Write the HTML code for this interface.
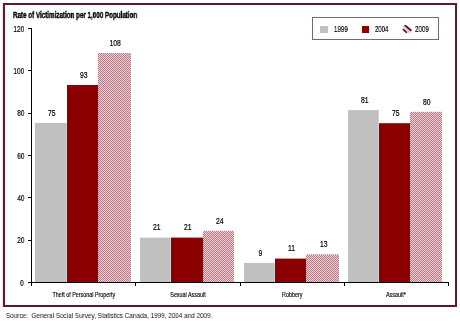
<!DOCTYPE html><html><head><meta charset="utf-8"><style>
html,body{margin:0;padding:0;background:#fff;width:460px;height:323px;overflow:hidden;position:relative}
*{box-sizing:border-box}
.a{position:absolute}
.t{position:absolute;font-family:"Liberation Sans",sans-serif;color:#000;white-space:nowrap;line-height:1;will-change:transform;-webkit-text-stroke:0.2px #000}
.frame{position:absolute;left:3px;top:3px;width:454px;height:304px;border:2px solid #5e1a2c;box-shadow:-1px 0 0 rgba(255,170,190,.35)}
.g{background:#c0c0c0}
.d{background:#8a0000}
.p{background:conic-gradient(#b87a84 25%,#f2cfd6 0 50%,#b87a84 0 75%,#f2cfd6 0) 0 0/2px 2px}
</style></head><body>
<div class="frame"></div>

<div class="t" style="left:12.5px;top:11.2px;font-size:8.5px;font-weight:bold;-webkit-text-stroke:0.4px #000;transform:scaleX(0.735);transform-origin:0 0">Rate of Victimization per 1,000 Population</div>
<div class="a" style="left:31px;top:28px;width:1px;height:255px;background:#000"></div>
<div class="a" style="left:31px;top:282px;width:418px;height:1px;background:#000"></div>
<div class="a" style="left:28px;top:282.00px;width:3px;height:1px;background:#000"></div>
<div class="t" style="right:436px;top:278.50px;font-size:8.5px;transform:scaleX(0.76);transform-origin:100% 0">0</div>
<div class="a" style="left:28px;top:239.67px;width:3px;height:1px;background:#000"></div>
<div class="t" style="right:436px;top:236.17px;font-size:8.5px;transform:scaleX(0.76);transform-origin:100% 0">20</div>
<div class="a" style="left:28px;top:197.33px;width:3px;height:1px;background:#000"></div>
<div class="t" style="right:436px;top:193.83px;font-size:8.5px;transform:scaleX(0.76);transform-origin:100% 0">40</div>
<div class="a" style="left:28px;top:155.00px;width:3px;height:1px;background:#000"></div>
<div class="t" style="right:436px;top:151.50px;font-size:8.5px;transform:scaleX(0.76);transform-origin:100% 0">60</div>
<div class="a" style="left:28px;top:112.67px;width:3px;height:1px;background:#000"></div>
<div class="t" style="right:436px;top:109.17px;font-size:8.5px;transform:scaleX(0.76);transform-origin:100% 0">80</div>
<div class="a" style="left:28px;top:70.33px;width:3px;height:1px;background:#000"></div>
<div class="t" style="right:436px;top:66.83px;font-size:8.5px;transform:scaleX(0.76);transform-origin:100% 0">100</div>
<div class="a" style="left:28px;top:28.00px;width:3px;height:1px;background:#000"></div>
<div class="t" style="right:436px;top:24.50px;font-size:8.5px;transform:scaleX(0.76);transform-origin:100% 0">120</div>
<div class="a" style="left:31px;top:282px;width:1px;height:4px;background:#000"></div>
<div class="a" style="left:135px;top:282px;width:1px;height:4px;background:#000"></div>
<div class="a" style="left:240px;top:282px;width:1px;height:4px;background:#000"></div>
<div class="a" style="left:344px;top:282px;width:1px;height:4px;background:#000"></div>
<div class="a" style="left:448px;top:282px;width:1px;height:4px;background:#000"></div>
<div class="a g" style="left:35px;top:123px;width:32px;height:159px"></div>
<div class="a" style="left:66px;top:123px;width:1px;height:159px;background:#ddd0d0"></div>
<div class="t" style="left:25.8px;width:52px;text-align:center;top:108.70px;font-size:8.5px"><span style="display:inline-block;transform:scaleX(0.8)">75</span></div>
<div class="a d" style="left:67px;top:85px;width:31px;height:197px"></div>
<div class="t" style="left:57.8px;width:51px;text-align:center;top:70.70px;font-size:8.5px"><span style="display:inline-block;transform:scaleX(0.8)">93</span></div>
<div class="a p" style="left:98px;top:53px;width:33px;height:229px"></div>
<div class="t" style="left:88.8px;width:53px;text-align:center;top:38.70px;font-size:8.5px"><span style="display:inline-block;transform:scaleX(0.8)">108</span></div>
<div class="t" style="left:23.50px;width:120px;text-align:center;top:291px;font-size:7px;-webkit-text-stroke:0.15px #000"><span style="display:inline-block;transform:scaleX(0.77)">Theft of Personal Property</span></div>
<div class="a g" style="left:140px;top:238px;width:31px;height:44px"></div>
<div class="a g" style="left:140px;top:237px;width:31px;height:1px;opacity:0.40"></div>
<div class="a" style="left:170px;top:238px;width:1px;height:44px;background:#ddd0d0"></div>
<div class="t" style="left:130.8px;width:51px;text-align:center;top:223.30px;font-size:8.5px"><span style="display:inline-block;transform:scaleX(0.8)">21</span></div>
<div class="a d" style="left:171px;top:238px;width:32px;height:44px"></div>
<div class="a d" style="left:171px;top:237px;width:32px;height:1px;opacity:0.40"></div>
<div class="t" style="left:161.8px;width:52px;text-align:center;top:223.30px;font-size:8.5px"><span style="display:inline-block;transform:scaleX(0.8)">21</span></div>
<div class="a p" style="left:203px;top:231px;width:31px;height:51px"></div>
<div class="a p" style="left:203px;top:230px;width:31px;height:1px;opacity:0.20"></div>
<div class="t" style="left:193.8px;width:51px;text-align:center;top:216.50px;font-size:8.5px"><span style="display:inline-block;transform:scaleX(0.8)">24</span></div>
<div class="t" style="left:127.80px;width:120px;text-align:center;top:291px;font-size:7px;-webkit-text-stroke:0.15px #000"><span style="display:inline-block;transform:scaleX(0.77)">Sexual Assault</span></div>
<div class="a g" style="left:244px;top:263px;width:31px;height:19px"></div>
<div class="a g" style="left:244px;top:262px;width:31px;height:1px;opacity:0.10"></div>
<div class="a" style="left:274px;top:263px;width:1px;height:19px;background:#ddd0d0"></div>
<div class="t" style="left:234.8px;width:51px;text-align:center;top:248.60px;font-size:8.5px"><span style="display:inline-block;transform:scaleX(0.8)">9</span></div>
<div class="a d" style="left:275px;top:259px;width:31px;height:23px"></div>
<div class="a d" style="left:275px;top:258px;width:31px;height:1px;opacity:0.40"></div>
<div class="t" style="left:265.8px;width:51px;text-align:center;top:244.30px;font-size:8.5px"><span style="display:inline-block;transform:scaleX(0.8)">11</span></div>
<div class="a p" style="left:306px;top:255px;width:33px;height:27px"></div>
<div class="a p" style="left:306px;top:254px;width:33px;height:1px;opacity:0.70"></div>
<div class="t" style="left:296.8px;width:53px;text-align:center;top:240.00px;font-size:8.5px"><span style="display:inline-block;transform:scaleX(0.8)">13</span></div>
<div class="t" style="left:232.00px;width:120px;text-align:center;top:291px;font-size:7px;-webkit-text-stroke:0.15px #000"><span style="display:inline-block;transform:scaleX(0.77)">Robbery</span></div>
<div class="a g" style="left:348px;top:111px;width:31px;height:171px"></div>
<div class="a g" style="left:348px;top:110px;width:31px;height:1px;opacity:0.90"></div>
<div class="a" style="left:378px;top:111px;width:1px;height:171px;background:#ddd0d0"></div>
<div class="t" style="left:338.8px;width:51px;text-align:center;top:95.80px;font-size:8.5px"><span style="display:inline-block;transform:scaleX(0.8)">81</span></div>
<div class="a d" style="left:379px;top:124px;width:31px;height:158px"></div>
<div class="a d" style="left:379px;top:123px;width:31px;height:1px;opacity:0.80"></div>
<div class="t" style="left:369.8px;width:51px;text-align:center;top:108.90px;font-size:8.5px"><span style="display:inline-block;transform:scaleX(0.8)">75</span></div>
<div class="a p" style="left:410px;top:112px;width:32px;height:170px"></div>
<div class="a p" style="left:410px;top:111px;width:32px;height:1px;opacity:0.20"></div>
<div class="t" style="left:400.8px;width:52px;text-align:center;top:97.50px;font-size:8.5px"><span style="display:inline-block;transform:scaleX(0.8)">80</span></div>
<div class="t" style="left:335.50px;width:120px;text-align:center;top:291px;font-size:7px;-webkit-text-stroke:0.15px #000"><span style="display:inline-block;transform:scaleX(0.77)">Assault*</span></div>
<div class="a" style="left:312px;top:17px;width:127px;height:23px;border:1px solid #7a6868"></div>
<div class="a g" style="left:320px;top:26px;width:8px;height:7px"></div>
<div class="t" style="left:334.3px;top:25px;font-size:8.5px;transform:scaleX(0.73);transform-origin:0 0">1999</div>
<div class="a d" style="left:362px;top:26px;width:7px;height:7px"></div>
<div class="t" style="left:374.8px;top:25px;font-size:8.5px;transform:scaleX(0.7);transform-origin:0 0">2004</div>
<svg class="a" style="left:402px;top:24px" width="10" height="10" viewBox="0 0 10 10"><line x1="2" y1="3.2" x2="7.6" y2="8" stroke="#f2bcc8" stroke-width="2.2" stroke-linecap="round"/><line x1="3.4" y1="1.6" x2="8.8" y2="6.2" stroke="#5a0a18" stroke-width="1.8" stroke-linecap="round"/><line x1="1.3" y1="5.6" x2="4.5" y2="8.3" stroke="#5a0a18" stroke-width="1.6" stroke-linecap="round"/></svg>
<div class="t" style="left:415px;top:25px;font-size:8.5px;transform:scaleX(0.73);transform-origin:0 0">2009</div>
<div class="t" style="left:5.5px;top:312px;font-size:7.3px;transform:scaleX(0.87);transform-origin:0 0;color:#111;-webkit-text-stroke:0">Source:&nbsp; General Social Survey, Statistics Canada, 1999, 2004 and 2009.</div>
</body></html>
